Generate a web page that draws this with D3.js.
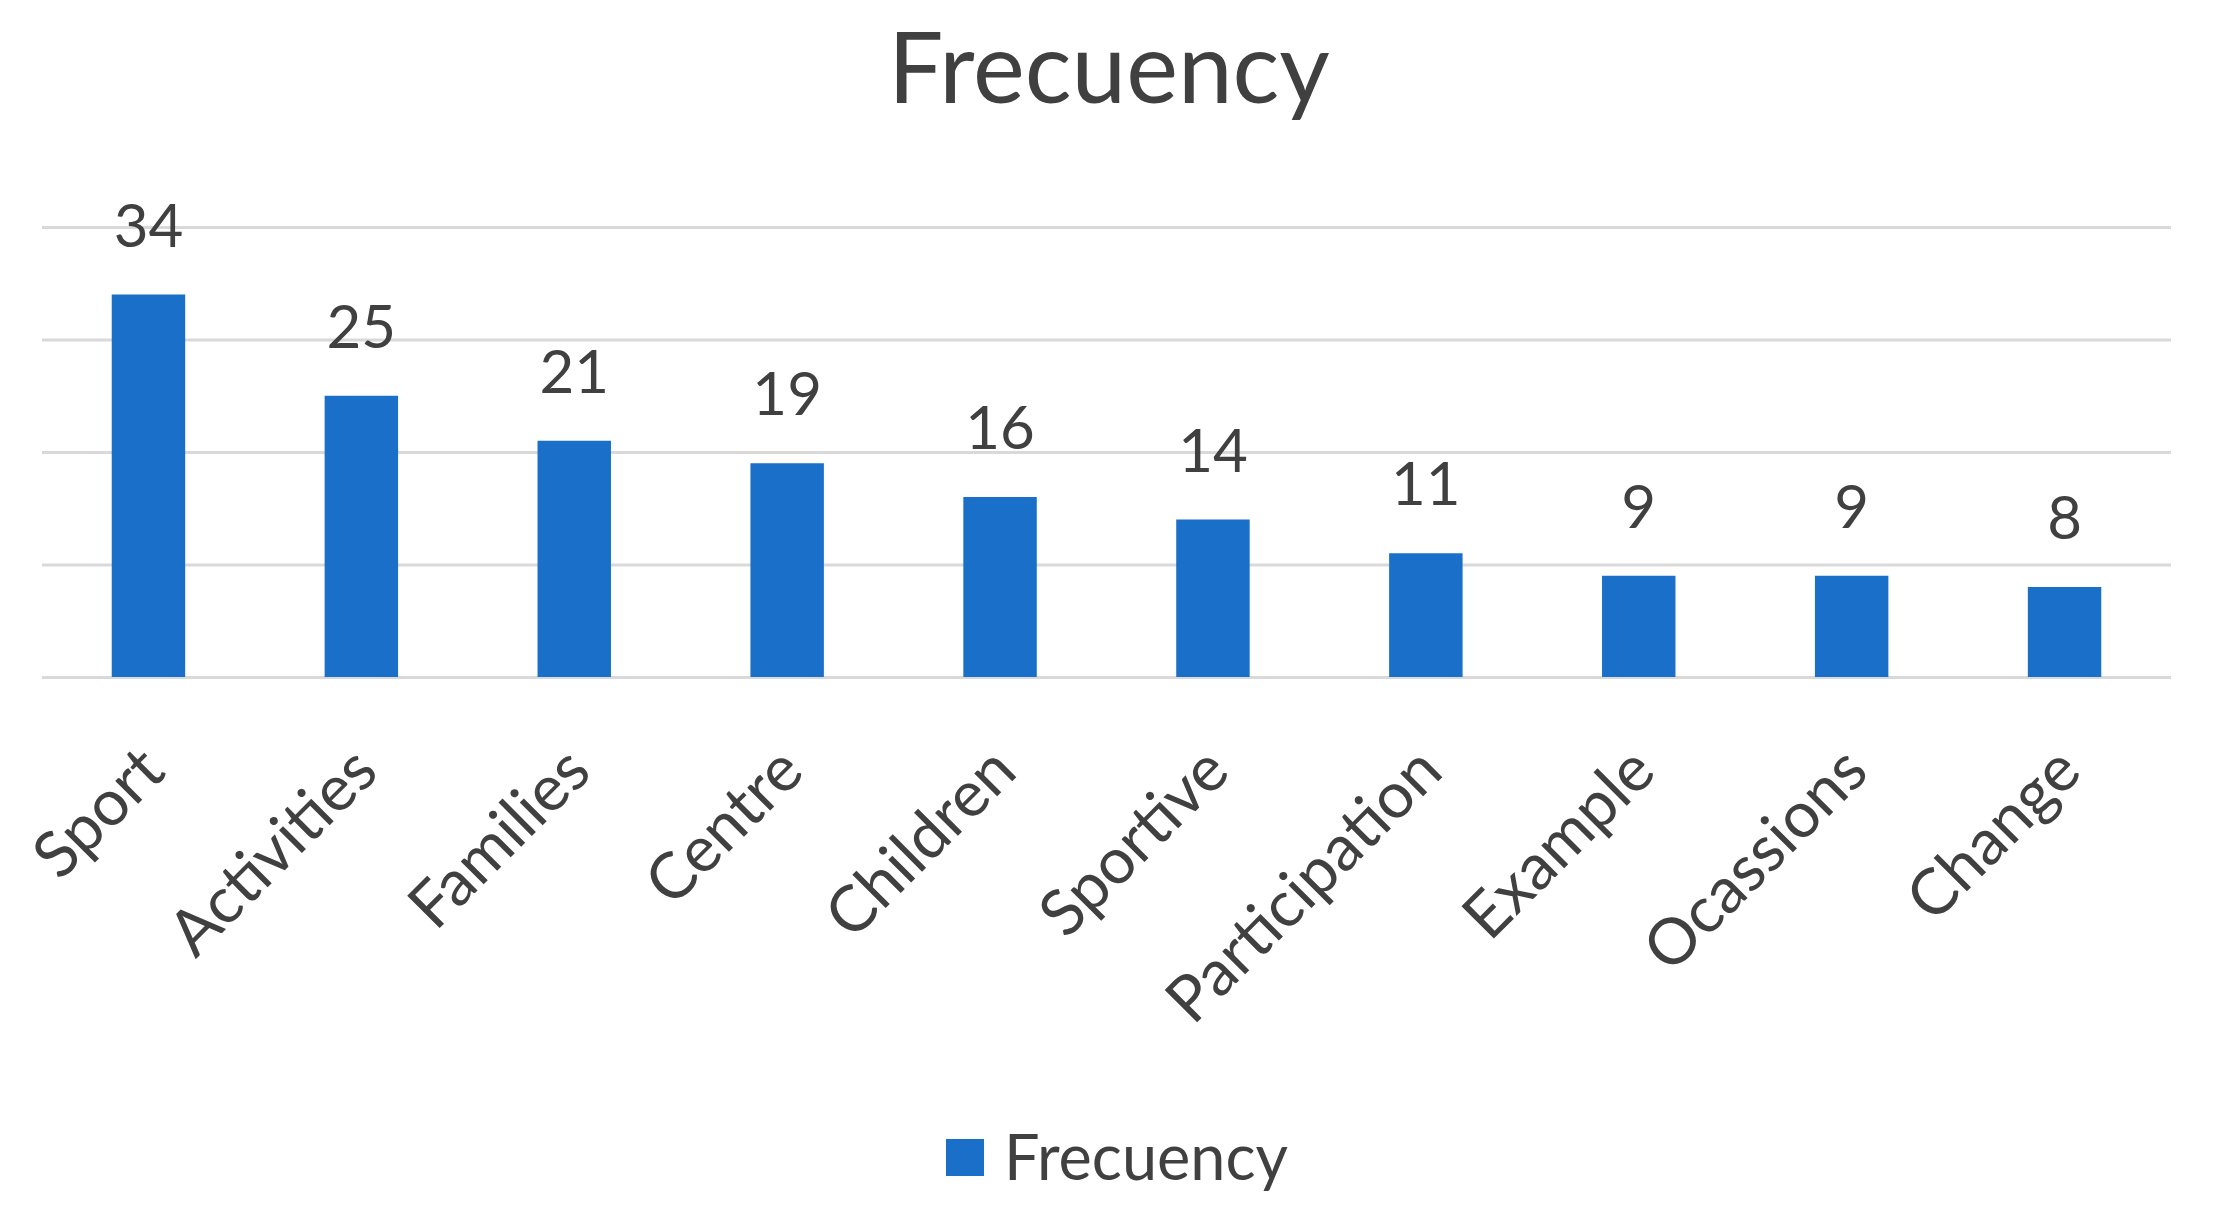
<!DOCTYPE html>
<html><head><meta charset="utf-8">
<script src="https://cdn.jsdelivr.net/npm/d3@7"></script>
<style>html,body{margin:0;padding:0;background:#fff;}svg{display:block;font-family:Lato,"Open Sans",sans-serif;}</style>
</head><body>
<svg id="chart" width="2215" height="1230"></svg>
<script>
const categories = ["Sport","Activities","Families","Centre","Children","Sportive","Participation","Example","Ocassions","Change"];
const values = [34,25,21,19,16,14,11,9,9,8];
const gridTicks = [0,10,20,30,40];
const seriesName = "Frecuency";
const titleText = "Frecuency";

const W = 2215, H = 1230;
const svg = d3.select("#chart");
const m = {left:42, right:44};
const x = d3.scaleBand().domain(categories).range([m.left, W - m.right]).paddingInner(0.655).paddingOuter(0.3275);
const y = d3.scaleLinear().domain([0,40]).range([677, 227]);
const textColor = "#404040";
const barColor = "#1a70c9";

svg.append("text").attr("x", 1109).attr("y", 103).attr("text-anchor","middle")
  .attr("font-size", 98).attr("fill", textColor).text(titleText);

// grid
const yAxis = d3.axisLeft(y).tickValues(gridTicks).tickSize(-(W - m.left - m.right)).tickFormat("");
const gy = svg.append("g").attr("transform", `translate(${m.left},0)`).call(yAxis);
gy.select(".domain").remove();
gy.selectAll(".tick line").attr("stroke","#d9d9d9").attr("stroke-width",3);

// bars
svg.append("g").selectAll("rect").data(values).join("rect")
  .attr("x", (d,i)=>x(categories[i])).attr("width", x.bandwidth())
  .attr("y", d=>y(d)).attr("height", d=>y(0)-y(d)).attr("fill", barColor);

// data labels
svg.append("g").selectAll("text").data(values).join("text")
  .attr("x", (d,i)=>x(categories[i]) + x.bandwidth()/2).attr("y", d=>y(d)-48)
  .attr("text-anchor","middle").attr("font-size",60).attr("fill",textColor).text(d=>d);

// x axis labels
const xAxis = d3.axisBottom(x).tickSize(0).tickPadding(0);
const gx = svg.append("g").attr("transform", `translate(0,${y(0)})`).call(xAxis);
gx.select(".domain").remove();
gx.selectAll(".tick text")
  .attr("font-size",64).attr("font-family","Lato").attr("fill",textColor)
  .attr("text-anchor","end").attr("dy",null).attr("y",null)
  .attr("dominant-baseline","central")
  .attr("transform","translate(2,80) rotate(-45)");

// legend
const lg = svg.append("g");
lg.append("rect").attr("x",946).attr("y",1139).attr("width",38).attr("height",37).attr("fill",barColor);
lg.append("text").attr("x",1004).attr("y",1180).attr("font-size",63).attr("fill",textColor).text(seriesName);
</script>
</body></html>
